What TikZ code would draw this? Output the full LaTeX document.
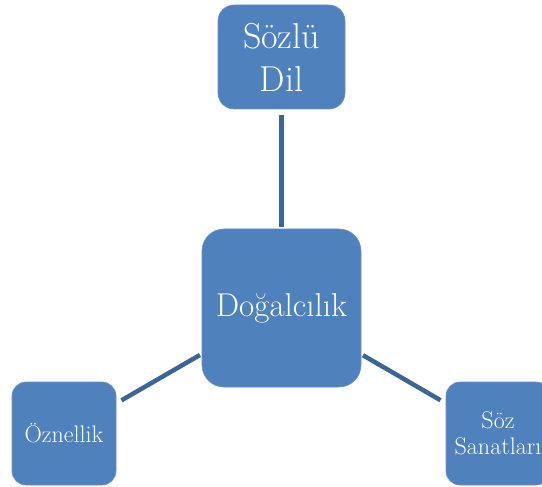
\documentclass[tikz,border=0pt]{standalone}
\usepackage{fontspec}
\definecolor{boxfill}{HTML}{4F81BD}
\definecolor{boxline}{HTML}{6690C6}
\definecolor{linkcol}{HTML}{3C6595}
\begin{document}
\begin{tikzpicture}[x=1pt,y=-1pt,
  boxnode/.style={draw=boxline,line width=0.6pt,fill=boxfill,text=white,align=center,inner sep=0pt,font=\rmfamily},
  linkline/.style={draw=linkcol,line width=4.5pt}]
\useasboundingbox (0,0) rectangle (542,487);
\node[boxnode,minimum width=127pt,minimum height=104pt,rounded corners=16pt,font=\fontsize{36}{43}\selectfont] (top) at (281.5,57) {Sözlü\\Dil};
\node[boxnode,minimum width=159pt,minimum height=158pt,rounded corners=22pt,font=\fontsize{33}{38}\selectfont] (mid) at (281.5,308) {Doğalcılık};
\node[boxnode,minimum width=104pt,minimum height=103pt,rounded corners=14pt,font=\fontsize{24}{28}\selectfont] (left) at (64,433.5) {Öznellik};
\node[boxnode,minimum width=104pt,minimum height=103pt,rounded corners=14pt,font=\fontsize{24}{26}\selectfont] (right) at (498,433.5) {Söz\\Sanatları};
\draw[linkline,shorten <=6pt,shorten >=2pt] (top) -- (mid);
\draw[linkline,shorten <=2pt,shorten >=6pt] (mid) -- (left);
\draw[linkline,shorten <=2pt,shorten >=6pt] (mid) -- (right);
\end{tikzpicture}
\end{document}
